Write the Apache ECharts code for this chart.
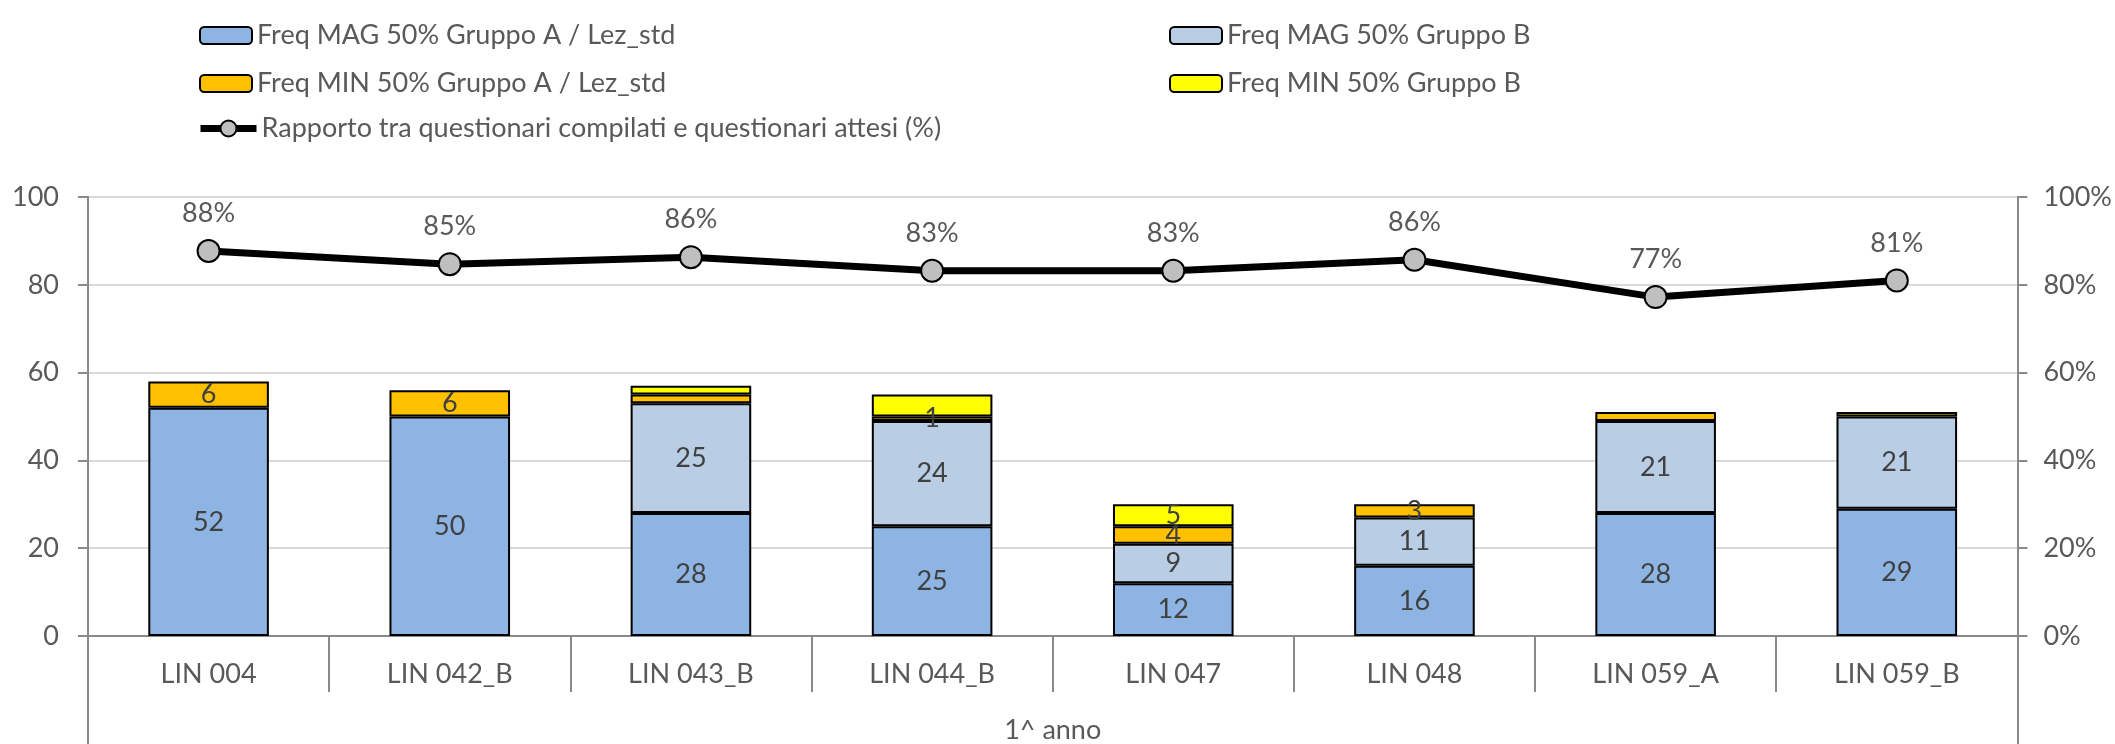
<!DOCTYPE html>
<html>
<head>
<meta charset="utf-8">
<script src="https://cdn.jsdelivr.net/npm/echarts@6/dist/echarts.min.js"></script>
<style>
html,body{margin:0;padding:0;background:#fff;}
#chart{width:2115px;height:744px;}
</style>
</head>
<body>
<div id="chart"></div>
<script>
// ---- data ----
var categories = ['LIN 004','LIN 042_B','LIN 043_B','LIN 044_B','LIN 047','LIN 048','LIN 059_A','LIN 059_B'];
var groupLabel = ['1^ anno'];
var seriesNames = [
  'Freq MAG 50% Gruppo A / Lez_std',
  'Freq MAG 50% Gruppo B',
  'Freq MIN 50% Gruppo A / Lez_std',
  'Freq MIN 50% Gruppo B',
  'Rapporto tra questionari compilati e questionari attesi (%)'
];
var magA = [52, 50, 28, 25, 12, 16, 28, 29];
var magB = [null, null, 25, 24, 9, 11, 21, 21];
var minA = [6, 6, 2, 1, 4, 3, 2, 1];
var minB = [null, null, 2, 5, 5, null, null, null];
var ratio = [87.7, 84.7, 86.3, 83.2, 83.2, 85.7, 77.2, 81.0];
// indexes of segments whose data label is not shown in the original
var hiddenMagA = [];
var hiddenMagB = [];
var hiddenMinA = [2, 6, 7];
var hiddenMinB = [2, 3];
var leftTicks = [0, 20, 40, 60, 80, 100];

var FONT = 'Lato';
var FS = 27;
var GREY = '#595959';
var AXIS = '#898989';

function items(vals, hidden) {
  return vals.map(function (v, i) {
    if (hidden.indexOf(i) >= 0) return { value: v, label: { show: false } };
    return v;
  });
}

function barSeries(name, vals, hidden, color) {
  return {
    name: name,
    type: 'bar',
    stack: 'tot',
    barWidth: '50%',
    data: items(vals, hidden),
    itemStyle: { color: color, borderColor: '#000', borderWidth: 2 },
    label: {
      show: true, position: 'inside', color: '#404040',
      fontFamily: FONT, fontSize: FS
    },
    emphasis: { disabled: true }
  };
}

var legendPos = [
  { left: 199, top: 22 },
  { left: 1169, top: 22 },
  { left: 199, top: 70 },
  { left: 1169, top: 70 },
  { left: 197, top: 115 }
];

var legends = seriesNames.map(function (n, i) {
  var l = {
    data: [n],
    left: legendPos[i].left,
    top: legendPos[i].top,
    padding: 0,
    itemWidth: 52,
    itemHeight: 17,
    itemGap: 0,
    selectedMode: false,
    textStyle: { fontFamily: FONT, fontSize: FS, color: GREY }
  };
  if (i === 4) {
    l.itemWidth = 56;
    l.itemHeight = 20;
    l.lineStyle = { width: 7, color: '#000' };
  }
  return l;
});

var chart = echarts.init(document.getElementById('chart'));
chart.setOption({
  animation: false,
  backgroundColor: '#fff',
  legend: legends,
  grid: { left: 88, right: 97, top: 197, bottom: 106 },
  xAxis: [{
    type: 'category',
    data: categories,
    axisLine: { lineStyle: { color: AXIS, width: 2 } },
    axisTick: { show: true, length: 56, interval: 0, lineStyle: { color: AXIS, width: 2 } },
    axisLabel: { interval: 0, margin: 25, color: GREY, fontFamily: FONT, fontSize: FS }
  }, {
    type: 'category',
    data: groupLabel,
    position: 'bottom',
    axisLine: { show: false },
    axisTick: { show: true, length: 110, lineStyle: { color: AXIS, width: 2 } },
    axisLabel: { margin: 81, color: GREY, fontFamily: FONT, fontSize: FS }
  }],
  yAxis: [{
    type: 'value',
    min: leftTicks[0], max: leftTicks[leftTicks.length - 1], interval: 20,
    axisLine: { show: true, lineStyle: { color: AXIS, width: 2 } },
    axisTick: { show: true, length: 10, lineStyle: { color: AXIS, width: 2 } },
    axisLabel: { margin: 29, color: GREY, fontFamily: FONT, fontSize: FS },
    splitLine: { lineStyle: { color: '#D9D9D9', width: 2 } }
  }, {
    type: 'value',
    min: 0, max: 100, interval: 20,
    position: 'right',
    axisLine: { show: true, lineStyle: { color: AXIS, width: 2 } },
    axisTick: { show: true, length: 10, lineStyle: { color: AXIS, width: 2 } },
    axisLabel: { margin: 26, color: GREY, fontFamily: FONT, fontSize: FS, formatter: '{value}%' },
    splitLine: { show: false }
  }],
  series: [
    barSeries(seriesNames[0], magA, hiddenMagA, '#8EB4E3'),
    barSeries(seriesNames[1], magB, hiddenMagB, '#B9CDE5'),
    barSeries(seriesNames[2], minA, hiddenMinA, '#FFC000'),
    barSeries(seriesNames[3], minB, hiddenMinB, '#FFFF00'),
    {
      name: seriesNames[4],
      type: 'line',
      yAxisIndex: 1,
      data: ratio,
      symbol: 'circle',
      symbolSize: 22,
      lineStyle: { color: '#000', width: 7 },
      itemStyle: { color: '#BFBFBF', borderColor: '#000', borderWidth: 2 },
      label: {
        show: true, position: 'top', distance: 12, color: GREY,
        fontFamily: FONT, fontSize: FS,
        formatter: function (p) { return Math.round(p.value) + '%'; }
      },
      emphasis: { disabled: true },
      z: 5
    }
  ]
});
</script>
</body>
</html>
